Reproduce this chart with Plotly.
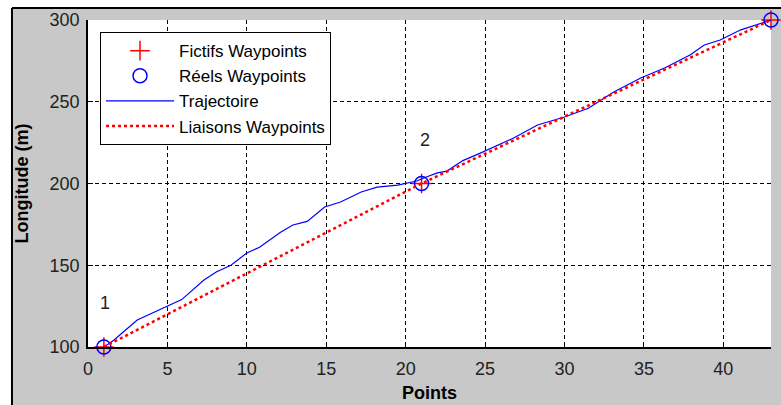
import plotly.graph_objects as go

# Waypoints
wp_x = [1, 21, 43]
wp_y = [100, 200, 300]

# Trajectory
traj_x = [1.0, 1.6, 3.1, 5.0, 5.9, 7.3, 8.1, 9.0, 10.0, 10.8, 12.1, 12.9, 13.8, 14.9,
          15.9, 17.2, 18.2, 19.5, 20.1, 20.7, 21.3, 22.0, 22.6, 23.6, 24.7, 25.8, 26.8,
          28.3, 30.0, 31.5, 32.3, 33.1, 34.8, 36.3, 37.9, 38.8, 39.8, 41.1, 43.0]
traj_y = [100, 104, 116.5, 125, 129, 141, 146, 150, 157.5, 161, 170, 174.6, 176.8, 185.6,
          188.7, 194.8, 197.8, 199, 200.3, 201.5, 204, 206.5, 207.6, 214, 218.6, 223.5, 227.8,
          235.8, 240.7, 246, 251, 256, 264.5, 270.6, 278.6, 284.7, 287.8, 294, 300]

x_ticks = [0, 5, 10, 15, 20, 25, 30, 35, 40]
y_ticks = [100, 150, 200, 250, 300]

labels = [("1", 1.1, 127), ("2", 21.2, 226.5)]

font = "Liberation Sans, Arial, sans-serif"

fig = go.Figure()
fig.add_trace(go.Scatter(x=wp_x, y=wp_y, mode="markers", name="Fictifs Waypoints",
                         legendgroup="a", cliponaxis=False,
                         marker=dict(symbol="cross-thin", size=14, line=dict(color="#ff0000", width=1.5),
                                     color="#ff0000")))
fig.add_trace(go.Scatter(x=wp_x, y=wp_y, mode="markers", name="Réels Waypoints",
                         legendgroup="b", cliponaxis=False,
                         marker=dict(symbol="circle-open", size=14, line=dict(color="#0000ff", width=1.5),
                                     color="#0000ff")))
fig.add_trace(go.Scatter(x=traj_x, y=traj_y, mode="lines", name="Trajectoire",
                         legendgroup="c",
                         line=dict(color="#0000ff", width=1.2)))
fig.add_trace(go.Scatter(x=wp_x, y=wp_y, mode="lines", name="Liaisons Waypoints",
                         legendgroup="d",
                         line=dict(color="#ff0000", width=2.5, dash="dot")))

for t, xx, yy in labels:
    fig.add_annotation(x=xx, y=yy, text=t, showarrow=False,
                       font=dict(family=font, size=18, color="#222222"))

# outer white strips and black frame
fig.add_shape(type="rect", xref="paper", yref="paper", x0=-0.2, x1=1.2, y0=1.0367, y1=1.2,
              fillcolor="white", line_width=0, layer="above")
fig.add_shape(type="rect", xref="paper", yref="paper", x0=-0.2, x1=-0.1113, y0=-0.3, y1=1.2,
              fillcolor="white", line_width=0, layer="above")
fig.add_shape(type="line", xref="paper", yref="paper", x0=-0.1113, x1=1.2, y0=1.0367, y1=1.0367,
              line=dict(color="black", width=2), layer="above")
fig.add_shape(type="line", xref="paper", yref="paper", x0=-0.1113, x1=-0.1113, y0=-0.3, y1=1.0367,
              line=dict(color="black", width=2), layer="above")

axis_common = dict(showline=True, linecolor="black", linewidth=1.5, ticks="inside", ticklen=5,
                   tickcolor="black", showgrid=True, gridcolor="black", gridwidth=1,
                   griddash="4px,3px", zeroline=False, automargin=False,
                   tickfont=dict(family=font, size=18, color="#222222"))

fig.update_xaxes(range=[0, 43], tickvals=x_ticks, **axis_common, ticklabelstandoff=5,
                 title=dict(text="<b>Points</b>", font=dict(family=font, size=18, color="black"),
                            standoff=8))
fig.update_yaxes(range=[100, 300], tickvals=y_ticks, **axis_common, ticklabelstandoff=3,
                 title=dict(text="<b>Longitude (m)</b>", font=dict(family=font, size=18, color="black"),
                            standoff=16))

fig.update_layout(
    width=781, height=405,
    margin=dict(l=88, r=10, t=20, b=58),
    paper_bgcolor="#c8c8c8", plot_bgcolor="white",
    showlegend=True,
    legend=dict(x=0.0176, y=0.963, xanchor="left", yanchor="top",
                bgcolor="white", bordercolor="black", borderwidth=1,
                font=dict(family=font, size=17, color="black"),
                traceorder="grouped", tracegroupgap=0, itemwidth=68),
)

fig.write_html("out.html")
